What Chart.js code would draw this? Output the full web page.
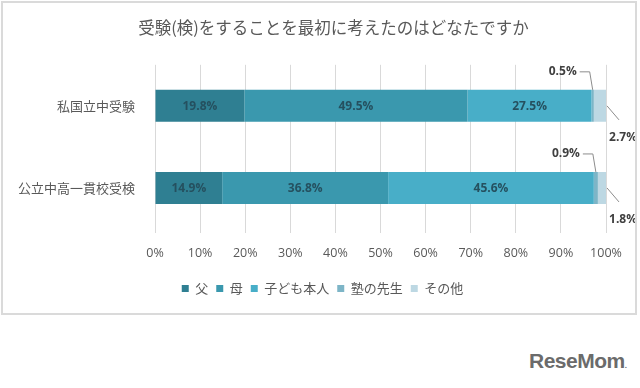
<!DOCTYPE html>
<html><head><meta charset="utf-8">
<script src="https://cdn.jsdelivr.net/npm/chart.js@4/dist/chart.umd.min.js"></script>
<style>
html,body{margin:0;padding:0;background:#fff;width:640px;height:388px;overflow:hidden;}
#frame{position:absolute;left:1px;top:1px;width:632px;height:310px;border:2px solid #dadada;}
#wrap{position:absolute;left:0;top:0;width:632px;height:310px;}
#logo{position:absolute;left:529px;top:349px;font:bold 21px "Liberation Sans",Arial,sans-serif;color:#6b6b6b;letter-spacing:-0.5px;}
</style></head>
<body>
<div id="frame"><div id="wrap"><canvas id="c"></canvas></div></div>
<div id="logo">ReseMom<span style="font-size:8px">.</span></div>
<script>
const categories = ["私国立中受験", "公立中高一貫校受検"];
const seriesNames = ["父", "母", "子ども本人", "塾の先生", "その他"];
const father = [19.8, 14.9];
const mother = [49.5, 36.8];
const child = [27.5, 45.6];
const teacher = [0.5, 0.9];
const other = [2.7, 1.8];
const xTicks = ["0%","10%","20%","30%","40%","50%","60%","70%","80%","90%","100%"];
const colors = ["#2f7f92", "#3a98ae", "#48aec8", "#7db5c7", "#bdd8e3"];
const seriesData = [father, mother, child, teacher, other];

const shiftPlugin = {
  id: 'shift',
  afterLayout(chart) {
    const t = chart.titleBlock, l = chart.legend;
    if (t) { t.left += 29; t.right += 29; }
    if (l) { l.left += 18; l.right += 18; }
  }
};

const labelPlugin = {
  id: 'labels',
  afterDatasetsDraw(chart) {
    const ctx = chart.ctx;
    ctx.save();
    ctx.font = 'bold 12px "Open Sans", "Noto Sans", sans-serif';
    ctx.textBaseline = 'middle';
    chart.data.datasets.forEach((ds, di) => {
      const meta = chart.getDatasetMeta(di);
      meta.data.forEach((el, i) => {
        const v = ds.data[i];
        const txt = v.toFixed(1) + '%';
        const cx = (el.x + el.base) / 2;
        const top = el.y - el.height / 2, bot = el.y + el.height / 2;
        if (v >= 5) {
          ctx.fillStyle = '#25505f';
          ctx.textAlign = 'center';
          ctx.fillText(txt, cx, el.y + 1);
        } else {
          ctx.strokeStyle = '#8c8c8c';
          ctx.lineWidth = 1;
          ctx.fillStyle = '#404040';
          if (di === 3) {
            const ty = top - 18;
            ctx.textAlign = 'right';
            ctx.fillText(txt, cx - 16, ty);
            ctx.beginPath();
            ctx.moveTo(cx - 13, ty); ctx.lineTo(cx - 3, ty); ctx.lineTo(cx, top);
            ctx.stroke();
          } else {
            const ex = el.x + 1;
            ctx.beginPath();
            ctx.moveTo(ex, el.y); ctx.lineTo(ex + 12, bot - 2);
            ctx.stroke();
            ctx.textAlign = 'center';
            ctx.fillText(txt, ex + 16, bot + 16);
          }
        }
      });
    });
    ctx.restore();
  }
};

new Chart(document.getElementById('c'), {
  type: 'bar',
  data: {
    labels: categories,
    datasets: seriesNames.map((n, k) => ({
      label: n, data: seriesData[k], backgroundColor: colors[k],
      borderWidth: 0, barPercentage: 0.39, categoryPercentage: 1
    }))
  },
  options: {
    indexAxis: 'y',
    responsive: true, maintainAspectRatio: false, animation: false,
    layout: { padding: { left: 0, right: 29, top: 0, bottom: 8 } },
    scales: {
      x: {
        stacked: true, min: 0, max: 100,
        ticks: { stepSize: 10, padding: 13, color: '#595959',
          font: { size: 12.5, family: '"Open Sans", "Noto Sans", sans-serif' },
          callback: (v, i) => xTicks[i] },
        grid: { color: '#d9d9d9', drawTicks: true, tickLength: 4 },
        border: { display: false }
      },
      y: {
        stacked: true,
        afterFit: s => { s.width = 152; },
        ticks: { padding: 12, color: '#595959',
          font: { size: 13, family: '"Noto Sans CJK JP", sans-serif' } },
        grid: { display: false },
        border: { display: false }
      }
    },
    plugins: {
      title: { display: true, text: '受験(検)をすることを最初に考えたのはどなたですか',
        color: '#595959', font: { size: 16.5, weight: 'normal', family: '"Noto Sans CJK JP", sans-serif' },
        padding: { top: 15, bottom: 27 } },
      legend: { position: 'bottom',
        labels: { boxWidth: 7, boxHeight: 7, padding: 8, color: '#595959',
          font: { size: 13, family: '"Noto Sans CJK JP", sans-serif' } } },
      tooltip: { enabled: false }
    }
  },
  plugins: [shiftPlugin, labelPlugin]
});
</script>
</body></html>
